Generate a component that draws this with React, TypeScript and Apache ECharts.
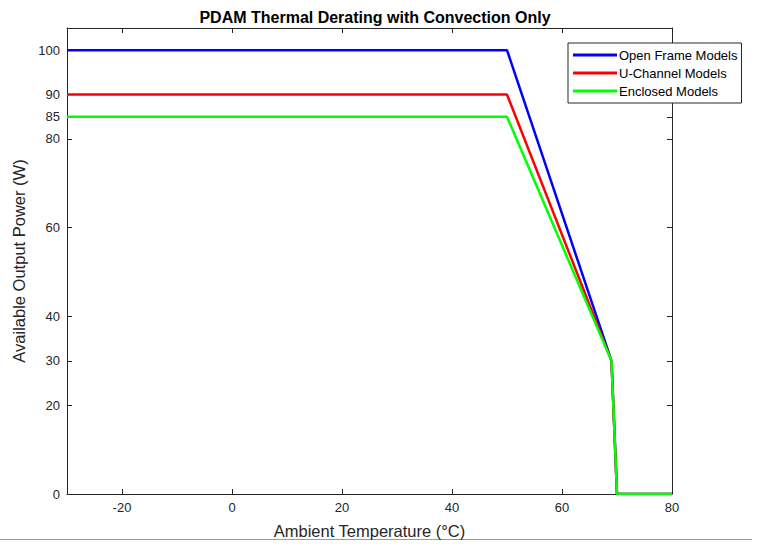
import React, { useEffect, useRef } from "react";
import * as echarts from "echarts";

const seriesNames = ["Open Frame Models", "U-Channel Models", "Enclosed Models"];
const seriesColors = ["#0000ff", "#ff0000", "#00ff00"];
const openFrame: [number, number][] = [[-30, 100], [50, 100], [69, 30], [70, 0], [80, 0]];
const uChannel: [number, number][] = [[-30, 90], [50, 90], [69, 30], [70, 0], [80, 0]];
const enclosed: [number, number][] = [[-30, 85], [50, 85], [69, 30], [70, 0], [80, 0]];
const xTicks = [-20, 0, 20, 40, 60, 80];
const yTicks = [0, 20, 30, 40, 60, 80, 85, 90, 100];

export default function App() {
  const ref = useRef<HTMLDivElement>(null);
  useEffect(() => {
    if (!ref.current) return;
    const chart = echarts.init(ref.current, null, { renderer: "svg" });
    const font = "'Liberation Sans', Arial, sans-serif";
    const axisLineStyle = { color: "#262626", width: 1 };
    const baseX = {
      type: "value" as const,
      min: -30,
      max: 80,
      axisLine: { show: true, onZero: false, lineStyle: axisLineStyle },
      axisTick: { show: true, inside: true, length: 5, customValues: xTicks, lineStyle: axisLineStyle },
      splitLine: { show: false },
    };
    const baseY = {
      type: "value" as const,
      min: 0,
      max: 105,
      axisLine: { show: true, onZero: false, lineStyle: axisLineStyle },
      axisTick: { show: true, inside: true, length: 5, customValues: yTicks, lineStyle: axisLineStyle },
      splitLine: { show: false },
    };
    const datas = [openFrame, uChannel, enclosed];
    chart.setOption({
      animation: false,
      backgroundColor: "#ffffff",
      title: {
        text: "PDAM Thermal Derating with Convection Only",
        left: 370,
        textAlign: "center",
        top: 4,
        textStyle: { fontFamily: font, fontSize: 16, fontWeight: "bold", color: "#000" },
      },
      grid: { left: 67, top: 28, width: 605, height: 467, containLabel: false },
      legend: {
        orient: "vertical",
        left: 568,
        top: 43,
        data: seriesNames,
        icon: "rect",
        itemWidth: 44,
        itemHeight: 3,
        itemGap: 4,
        padding: [5, 4, 5, 5],
        borderColor: "#262626",
        borderWidth: 1,
        backgroundColor: "#fff",
        textStyle: { fontFamily: font, fontSize: 13, lineHeight: 14, color: "#000", padding: [0, 0, 0, -3] },
      },
      xAxis: [
        {
          ...baseX,
          position: "bottom",
          name: "Ambient Temperature (°C)",
          nameLocation: "middle",
          nameGap: 28,
          nameTextStyle: { fontFamily: font, fontSize: 16.5, color: "#262626" },
          axisLabel: { show: true, customValues: xTicks, margin: 7, fontFamily: font, fontSize: 13, color: "#262626" },
        },
        { ...baseX, position: "top", axisLabel: { show: false } },
      ],
      yAxis: [
        {
          ...baseY,
          position: "left",
          name: "Available Output Power (W)",
          nameLocation: "middle",
          nameGap: 37,
          nameTextStyle: { fontFamily: font, fontSize: 16.5, color: "#262626" },
          axisLabel: { show: true, customValues: yTicks, margin: 7, fontFamily: font, fontSize: 13, color: "#262626" },
        },
        { ...baseY, position: "right", axisLabel: { show: false } },
      ],
      series: seriesNames.map((name, i) => ({
        name,
        type: "line",
        data: datas[i],
        xAxisIndex: 0,
        yAxisIndex: 0,
        showSymbol: false,
        symbol: "none",
        lineStyle: { color: seriesColors[i], width: 2.5 },
        itemStyle: { color: seriesColors[i] },
        z: 2 + i,
      })),
      graphic: [
        {
          type: "line",
          shape: { x1: 0, y1: 539.5, x2: 752, y2: 539.5 },
          style: { stroke: "#9a9a9a", lineWidth: 1 },
        },
      ],
    });
    return () => chart.dispose();
  }, []);
  return (
    <div
      ref={ref}
      style={{ position: "absolute", left: 0, top: 0, width: 758, height: 544 }}
    />
  );
}
